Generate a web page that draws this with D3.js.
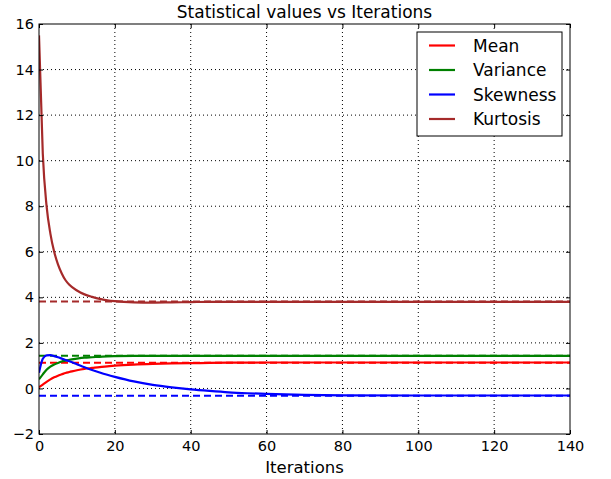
<!DOCTYPE html>
<html>
<head>
<meta charset="utf-8">
<script src="https://cdn.jsdelivr.net/npm/d3@7"></script>
<style>
  body { margin: 0; background: #fff; }
  text { font-family: "DejaVu Sans", sans-serif; fill: #000; }
</style>
</head>
<body>
<div id="chart"></div>
<script>
// Statistical values vs Iterations

// data
let iterations = [0,1,2,3,4,5,6,7,8,10,12,14,16,18,20,25,30,35,40,45,50,55,60,70,80,100,120,140];
let meanVals     = [0.05,0.17,0.29,0.40,0.49,0.56,0.62,0.68,0.72,0.80,0.86,0.90,0.94,0.97,1.00,1.05,1.08,1.10,1.11,1.12,1.13,1.135,1.14,1.14,1.14,1.14,1.14,1.14];
let varianceVals = [0.40,0.62,0.82,0.96,1.05,1.12,1.18,1.22,1.26,1.31,1.35,1.37,1.39,1.41,1.42,1.43,1.43,1.43,1.43,1.43,1.43,1.43,1.43,1.43,1.43,1.43,1.43,1.43];
let skewnessVals = [0.69,1.30,1.45,1.46,1.42,1.37,1.31,1.25,1.19,1.06,0.93,0.81,0.70,0.60,0.51,0.31,0.16,0.05,-0.04,-0.11,-0.17,-0.21,-0.24,-0.28,-0.30,-0.31,-0.31,-0.31];
let kurtosisVals = [15.5,10.3,8.0,6.8,6.0,5.45,5.05,4.75,4.55,4.30,4.13,4.02,3.93,3.87,3.83,3.78,3.77,3.78,3.79,3.80,3.80,3.80,3.80,3.80,3.80,3.80,3.80,3.80];
let seriesNames = ['Mean','Variance','Skewness','Kurtosis'];
let targetVals = [1.13, 1.44, -0.32, 3.82];
let xTicks = [0,20,40,60,80,100,120,140];
let yTicks = [-2,0,2,4,6,8,10,12,14,16];

let colors = ['#ff0000','#008000','#0000ff','#a52a2a'];
let allVals = [meanVals, varianceVals, skewnessVals, kurtosisVals];

// Margins
let margin = {top: 24, right: 41, bottom: 45, left: 39};
let width = 611 - margin.left - margin.right;
let height = 479 - margin.top - margin.bottom;

let xScale = d3.scaleLinear().domain([0,140]).range([0,width]);
let yScale = d3.scaleLinear().domain([-2,16]).range([height,0]);

let svg = d3.select('#chart')
  .append('svg')
  .attr('width',611)
  .attr('height',479)
  .append('g')
  .attr('transform','translate(' + margin.left + ',' + margin.top + ')');

// grid
svg.append('g')
  .selectAll('line')
  .data(xTicks.slice(1,-1))
  .enter().append('line')
  .attr('x1',d => xScale(d)).attr('x2',d => xScale(d))
  .attr('y1',0).attr('y2',height)
  .attr('stroke','#000').attr('stroke-width',1)
  .attr('stroke-dasharray','1,3');
svg.append('g')
  .selectAll('line')
  .data(yTicks.slice(1,-1))
  .enter().append('line')
  .attr('y1',d => yScale(d)).attr('y2',d => yScale(d))
  .attr('x1',0).attr('x2',width)
  .attr('stroke','#000').attr('stroke-width',1)
  .attr('stroke-dasharray','1,3');

// lines
let clip = svg.append('clipPath').attr('id','clip')
  .append('rect').attr('width',width).attr('height',height);
let plot = svg.append('g').attr('clip-path','url(#clip)');

let line = d3.line()
  .x((d,i) => xScale(iterations[i]))
  .y(d => yScale(d))
  .curve(d3.curveMonotoneX);

// dashed target levels
targetVals.forEach(function(t,i) {
  plot.append('line')
    .attr('x1',xScale(0)).attr('x2',xScale(140))
    .attr('y1',yScale(t)).attr('y2',yScale(t))
    .attr('stroke',colors[i])
    .attr('stroke-width',2)
    .attr('stroke-dasharray','7,4');
});

allVals.forEach(function(vals,i) {
  plot.append('path')
    .datum(vals)
    .attr('d',line)
    .attr('fill','none')
    .attr('stroke',colors[i])
    .attr('stroke-width',2.2);
});

// axes (ticks inside, on all sides)
let xAxis = d3.axisBottom(xScale).tickValues(xTicks).tickSizeInner(-4).tickSizeOuter(0).tickPadding(7);
let yAxis = d3.axisLeft(yScale).tickValues(yTicks).tickSizeInner(-4).tickSizeOuter(0).tickPadding(5)
  .tickFormat(d => d < 0 ? '\u2212' + Math.abs(d) : d);

let gx = svg.append('g').attr('transform','translate(0,' + height + ')').call(xAxis);
let gy = svg.append('g').call(yAxis);
svg.append('g').call(d3.axisTop(xScale).tickValues(xTicks).tickSizeInner(-4).tickSizeOuter(0).tickFormat(''));
svg.append('g').attr('transform','translate(' + width + ',0)')
  .call(d3.axisRight(yScale).tickValues(yTicks).tickSizeInner(-4).tickSizeOuter(0).tickFormat(''));

svg.selectAll('.domain').remove();
svg.selectAll('.tick line').attr('stroke','#000');
svg.selectAll('.tick text').style('font-size','14.5px').style('font-family','DejaVu Sans');

// frame
svg.append('rect')
  .attr('width',width).attr('height',height)
  .attr('fill','none').attr('stroke','#000').attr('stroke-width',1);

// title + label
svg.append('text')
  .attr('x',width/2).attr('y',-6.5)
  .attr('text-anchor','middle')
  .style('font-size','17px')
  .text('Statistical values vs Iterations');
svg.append('text')
  .attr('x',width/2).attr('y',height + 38.5)
  .attr('text-anchor','middle')
  .style('font-size','16.5px')
  .text('Iterations');

// legend
let legend = svg.append('g').attr('transform','translate(' + (417 - margin.left) + ',' + (32 - margin.top) + ')');
legend.append('rect')
  .attr('width',145).attr('height',104)
  .attr('fill','#fff').attr('stroke','#000').attr('stroke-width',1);
seriesNames.forEach(function(name,i) {
  let y = 13.5 + i * 24.5;
  legend.append('line')
    .attr('x1',12).attr('x2',38)
    .attr('y1',y).attr('y2',y)
    .attr('stroke',colors[i]).attr('stroke-width',2.2);
  legend.append('text')
    .attr('x',56).attr('y',y + 6)
    .style('font-size','17px')
    .text(name);
});
</script>
</body>
</html>
